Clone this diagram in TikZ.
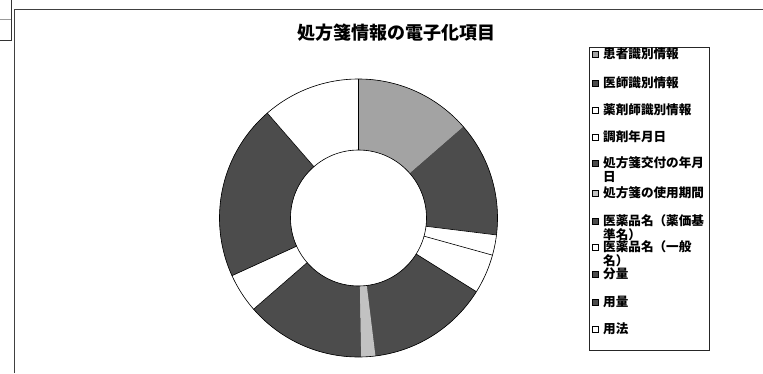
\documentclass[tikz,border=0pt]{standalone}
\usepackage{fontspec}
\newfontfamily\jp{Noto Sans CJK JP}

% one part of the ring, from angle #1 to angle #2
\newcommand{\ringpart}[3]{%
  \fill[#3] (#1:139) arc[start angle=#1, end angle=#2, radius=139]
    -- (#2:68) arc[start angle=#2, end angle=#1, radius=68] -- cycle;}

\begin{document}
\begin{tikzpicture}[x=1pt, y=1pt,
    edge/.style={draw=black, line width=0.6pt},
    darkpart/.style={fill=black!70},
    lightpart/.style={fill=black!36},
    palepart/.style={fill=black!24},
    whitepart/.style={fill=white},
    entry/.style={anchor=north west, align=left, inner sep=0pt,
                  font=\jp\bfseries\fontsize{12.6}{14}\selectfont},
    keybox/.style={draw=black, line width=0.5pt, minimum size=6pt, inner sep=0pt}]

    \useasboundingbox (0,0) rectangle (763,373);

    % Frame of the chart
    \draw[black!75, line width=0.8pt] (14,0) -- (14,364) -- (763,364);
    \draw[black!80, line width=0.6pt] (0,333) -- (11,333) -- (11,373);
    \draw[black!40, line width=0.6pt] (0,354) -- (11,354);

    % Title
    \node[font=\jp\bfseries\fontsize{18}{20}\selectfont] (title) at (396,340) {処方箋情報の電子化項目};

    % Ring, clockwise from the top
    \begin{scope}[shift={(358.5,155)}]
        \fill[darkpart, even odd rule] (0,0) circle[radius=139] (0,0) circle[radius=68];
        \ringpart{90}{41}{lightpart}
        \ringpart{41}{-7}{darkpart}
        \ringpart{-7}{-15.5}{whitepart}
        \ringpart{-15.5}{-32}{whitepart}
        \ringpart{-32}{-83}{darkpart}
        \ringpart{-83}{-89}{palepart}
        \ringpart{-89}{-139}{darkpart}
        \ringpart{-139}{-155.5}{whitepart}
        \ringpart{-155.5}{-190}{darkpart}
        \ringpart{-190}{-229}{darkpart}
        \ringpart{131}{90}{whitepart}
        % outlines
        \draw[edge] (0,0) circle[radius=139];
        \draw[edge] (0,0) circle[radius=68];
        \foreach \a in {90, 131, -7, -15.5, -32, -139, -155.5}
            \draw[edge] (\a:68) -- (\a:139);
    \end{scope}

    % Legend box
    \draw[black!85, line width=0.6pt] (589,23) rectangle (709,326);

    % Legend keys
    \node[keybox, fill=black!36] (k1) at (595,319) {};
    \node[keybox, fill=black!70] (k2) at (595,290) {};
    \node[keybox, fill=white] (k3) at (595,263) {};
    \node[keybox, fill=white] (k4) at (595,236) {};
    \node[keybox, fill=black!70] (k5) at (595,210) {};
    \node[keybox, fill=black!24] (k6) at (595,180) {};
    \node[keybox, fill=black!70] (k7) at (595,152) {};
    \node[keybox, fill=white] (k8) at (595,126) {};
    \node[keybox, fill=black!70] (k9) at (595,99) {};
    \node[keybox, fill=black!70] (k10) at (595,71) {};
    \node[keybox, fill=white] (k11) at (595,44) {};

    % Legend texts
    \node[entry] (l1) at (603,325.5) {患者識別情報};
    \node[entry] (l2) at (603,296.5) {医師識別情報};
    \node[entry] (l3) at (603,269.5) {薬剤師識別情報};
    \node[entry] (l4) at (603,242.5) {調剤年月日};
    \node[entry] (l5) at (603,216.5) {処方箋交付の年月\\日};
    \node[entry] (l6) at (603,186.5) {処方箋の使用期間};
    \node[entry] (l7) at (603,158.5) {医薬品名（薬価基\\準名）};
    \node[entry] (l8) at (603,132.5) {医薬品名（一般\\名）};
    \node[entry] (l9) at (603,105.5) {分量};
    \node[entry] (l10) at (603,77.5) {用量};
    \node[entry] (l11) at (603,50.5) {用法};

\end{tikzpicture}
\end{document}
